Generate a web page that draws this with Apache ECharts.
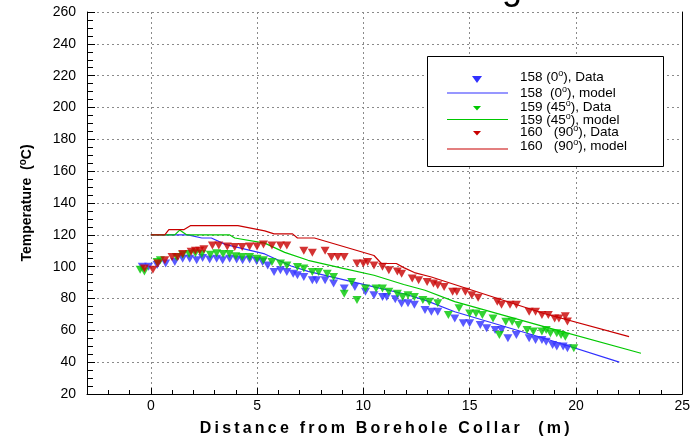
<!DOCTYPE html>
<html><head><meta charset="utf-8">
<script src="https://cdn.jsdelivr.net/npm/echarts@6/dist/echarts.min.js"></script>
<style>html,body{margin:0;padding:0;background:#fff}#c{width:693px;height:442px}</style>
</head><body><div id="c"></div>
<script>
// ---- data ----
const blueData = [[-0.4,100],[-0.1,100],[0.3,101],[0.7,102],[1.13,103],[1.5,105],[1.83,105],[2.16,104],[2.44,105.5],[2.77,104.5],[3.1,105],[3.38,104],[3.71,105],[4.04,104.5],[4.32,104],[4.65,104.5],[4.98,103.5],[5.26,103],[5.5,100.8],[5.8,96.7],[6.1,97.7],[6.4,96.7],[6.7,95.6],[6.9,94.6],[7.2,93.5],[7.6,91.4],[7.8,91.4],[8.2,91.4],[8.6,89.4],[9.1,86.3],[9.6,87.3],[10.1,84.2],[10.5,82],[10.9,81],[11.1,81],[11.5,79.6],[11.8,76.9],[12.1,77],[12.4,76],[12.9,72.7],[13.2,71.7],[13.5,71.7],[14.3,67.5],[14.7,64.4],[15.0,64.4],[15.5,63.3],[15.8,61.3],[16.2,60.2],[16.5,60.2],[16.8,55],[17.2,57],[17.8,55],[18.1,53.9],[18.4,53.9],[18.6,52.9],[18.9,50.8],[19.1,49.8],[19.4,49.8],[19.6,48.8]];
const blueModel = [[0,120],[1.75,120],[2.4,118],[2.85,118],[3.5,114],[5.36,108],[6.6,100.4],[7.4,97],[10.5,87.3],[11.9,83],[12.9,79],[14.3,71.7],[18.5,55],[22.04,40]];
const greenData = [[-0.5,98],[-0.3,97],[0.3,103],[0.45,104],[1.2,106],[1.5,107.5],[1.8,108],[2.1,108.5],[2.4,108],[2.8,107.5],[3.1,108.5],[3.4,108],[3.7,108],[4.0,106.5],[4.3,106],[4.65,106],[5.0,105],[5.3,104],[5.7,103],[6.1,102],[6.4,100.8],[6.9,99.8],[7.2,98.8],[7.6,96.7],[7.9,96.7],[8.3,95.6],[8.6,93.5],[9.1,83],[9.45,90.4],[9.7,79],[10.1,86.3],[10.6,86.3],[10.9,86.3],[11.2,84.2],[11.6,83],[11.85,81],[12.1,82],[12.4,81],[12.8,79],[13.1,78],[13.5,77],[14.0,69.6],[14.5,73.8],[15.0,70.6],[15.3,70.6],[15.6,69.6],[16.1,67.5],[16.4,57],[16.7,65.4],[17.0,65.4],[17.3,63.3],[17.7,60.2],[18.0,59.2],[18.4,59.2],[18.6,60.2],[18.8,58.1],[19.1,58.1],[19.3,57],[19.5,56],[19.9,48.8]];
const greenModel = [[0,120],[1.13,120],[1.36,123],[1.68,120],[3.7,120],[3.95,118],[5.36,114.8],[6.3,109],[7.4,104],[9.1,98.8],[10.5,94.6],[11.9,88.8],[12.9,85.2],[14.3,78],[18.5,62.3],[23.06,45.6]];
const redData = [[-0.3,98.8],[0.1,98],[0.33,102],[0.66,104],[1.0,106],[1.27,106],[1.5,108],[1.9,109.4],[2.1,110],[2.3,110],[2.5,111],[2.9,113.3],[3.2,113.3],[3.6,112.7],[3.95,112.3],[4.3,112.3],[4.65,112.7],[5.0,112.7],[5.3,114],[5.7,113.3],[6.1,113.3],[6.4,113.3],[7.2,110],[7.6,108.7],[8.2,110],[8.5,106],[8.8,106],[9.1,106],[9.7,102],[10.0,102],[10.2,103],[10.5,100.8],[10.9,100],[11.2,97.7],[11.6,96.9],[11.8,95.6],[12.3,92.5],[12.6,91.4],[13.0,90.4],[13.3,89.4],[13.5,88.3],[13.8,87.3],[14.2,84.2],[14.4,84.2],[14.8,84.2],[15.1,82],[15.4,80.4],[16.3,78],[16.5,76],[16.9,76],[17.2,76],[17.8,71.7],[18.1,71.7],[18.4,69.6],[18.7,69.6],[19.0,67.5],[19.2,67.5],[19.5,68.8],[19.6,65.6]];
const redModel = [[0,120],[0.66,120],[0.85,123.3],[1.57,123.3],[1.88,125.8],[4.1,125.8],[5.36,122.5],[5.8,120.6],[6.67,120.6],[6.9,118],[7.7,118],[10.5,107],[10.85,102],[11.55,102],[11.9,99.4],[12.4,96.3],[13.2,93.5],[18.5,70.6],[22.5,56]];
const legendLabels = ['158 (0{s|o}), Data','158  (0{s|o}), model','159 (45{s|o}), Data','159 (45{s|o}), model','160   (90{s|o}), Data','160   (90{s|o}), model'];
const xName = 'Distance from Borehole Collar  (m)';
const yName = 'Temperature  ({s|o}C)';

const FONT = 'Liberation Sans, Arial, sans-serif';
const BLUE = '#3030ff', GREEN = '#00c800', RED = '#c80000';
const spaced = s => s.split('').join('\u2009');

const chart = echarts.init(document.getElementById('c'), null, {renderer:'canvas'});
const dash = {type:[2,3], color:'#8a8a8a', width:1};
function scatter(name, data, color){
  return {name, type:'scatter', data, symbol:'triangle', symbolRotate:180, symbolSize:[9,8],
    itemStyle:{color}, z:3, silent:true};
}
function line(name, data, color){
  return {name, type:'line', data, showSymbol:false, symbol:'none', lineStyle:{color, width:1.2}, z:2, silent:true};
}
const legendRows = [77,93,107,120,132,146];
const graphics = [
  {type:'text', style:{text:'g', x:512, y:7, font:'normal 36px '+FONT, fill:'#000', align:'center', verticalAlign:'bottom'}, z:10},
  {type:'rect', shape:{x:427.5,y:56.5,width:236,height:110}, style:{fill:'#fff', stroke:'#000', lineWidth:1}, z:10},
  {type:'polygon', shape:{points:[[472,76],[482,76],[477,83]]}, style:{fill:BLUE}, z:11},
  {type:'line', shape:{x1:447,y1:93,x2:508,y2:93}, style:{stroke:BLUE, lineWidth:1.2}, z:11},
  {type:'polygon', shape:{points:[[473,106],[481,106],[477,110.5]]}, style:{fill:GREEN}, z:11},
  {type:'line', shape:{x1:447,y1:119.5,x2:508,y2:119.5}, style:{stroke:GREEN, lineWidth:1.2}, z:11},
  {type:'polygon', shape:{points:[[473,131],[481,131],[477,135.5]]}, style:{fill:RED}, z:11},
  {type:'line', shape:{x1:447,y1:149,x2:508,y2:149}, style:{stroke:RED, lineWidth:1.2}, z:11}
];
legendLabels.forEach((t,i)=>{
  graphics.push({type:'text', z:11, style:{text:t, x:520, y:legendRows[i], fill:'#000',
    font:'normal 13.5px '+FONT, verticalAlign:'middle', align:'left',
    rich:{s:{fontSize:9, fontFamily:FONT, padding:[0,0,7,0]}}}});
});

chart.setOption({
  animation:false,
  backgroundColor:'#fff',
  grid:{left:87, right:10, top:12, bottom:46},
  xAxis:[{type:'value', min:-3, max:25, splitNumber:6,
    axisLine:{show:true, onZero:false, lineStyle:{color:'#000', width:1}},
    axisTick:{show:true, inside:true, length:6, lineStyle:{color:'#000'}},
    minorTick:{show:true, splitNumber:5, length:4, lineStyle:{color:'#000'}},
    axisLabel:{showMinLabel:false, color:'#000', fontSize:14, fontFamily:FONT, margin:5},
    splitLine:{show:true, lineStyle:dash},
    name:spaced(xName), nameLocation:'middle', nameGap:27,
    nameTextStyle:{color:'#000', fontWeight:'bold', fontSize:16, fontFamily:FONT}}],
  yAxis:[{type:'value', min:20, max:260, interval:20,
    axisLine:{show:true, onZero:false, lineStyle:{color:'#000', width:1}},
    axisTick:{show:true, inside:true, length:8, lineStyle:{color:'#000'}},
    minorTick:{show:true, splitNumber:4, length:6, lineStyle:{color:'#000'}},
    axisLabel:{color:'#000', fontSize:14, fontFamily:FONT, margin:11},
    splitLine:{show:true, lineStyle:dash},
    name:yName, nameLocation:'middle', nameGap:50,
    nameTextStyle:{color:'#000', fontWeight:'bold', fontSize:14, fontFamily:FONT,
      rich:{s:{fontSize:10, fontWeight:'bold', fontFamily:FONT, padding:[0,0,9,0]}}}},
   {type:'value', min:20, max:260, interval:20, position:'right',
    axisLine:{show:true, onZero:false, lineStyle:{color:'#000', width:1}},
    axisTick:{show:false}, axisLabel:{show:false}, splitLine:{show:false}}],
  series:[
    line('158 (0), model', blueModel, BLUE),
    line('159 (45), model', greenModel, GREEN),
    line('160 (90), model', redModel, RED),
    scatter('158 (0), Data', blueData, BLUE),
    scatter('159 (45), Data', greenData, GREEN),
    scatter('160 (90), Data', redData, RED)
  ],
  graphic:graphics
});
</script></body></html>
